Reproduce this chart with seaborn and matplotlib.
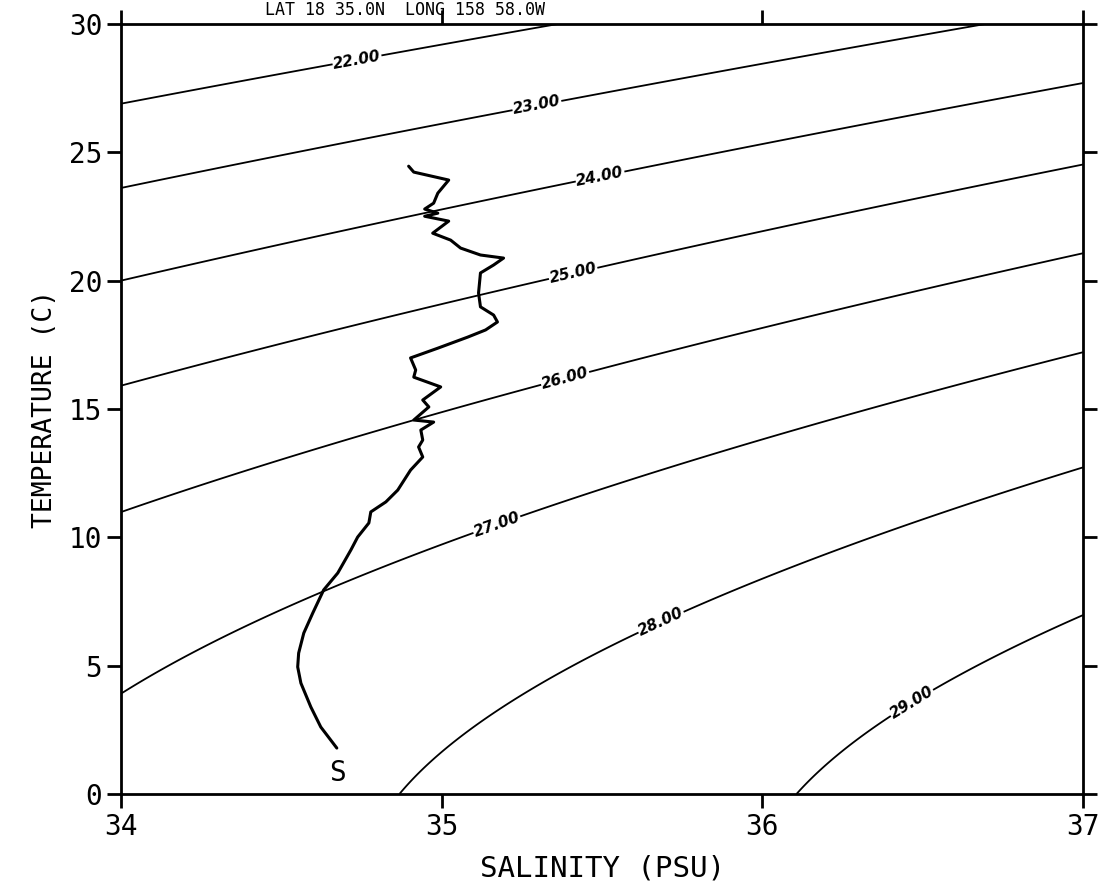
import numpy as np
import pandas as pd
import matplotlib
matplotlib.use("Agg")
import matplotlib.pyplot as plt
import seaborn as sns

# ---- data: CTD profile (salinity PSU, temperature C) ----
salinity = [34.897, 34.913, 35.022, 34.988, 34.975, 34.947, 34.988, 34.947, 35.022,
            34.972, 35.028, 35.059, 35.121, 35.193, 35.162, 35.121, 35.115, 35.121,
            35.162, 35.174, 35.137, 35.081, 34.988, 34.903, 34.919, 34.913, 34.997,
            34.941, 34.960, 34.913, 34.975, 34.935, 34.941, 34.928, 34.941, 34.903,
            34.863, 34.826, 34.779, 34.773, 34.738, 34.717, 34.676, 34.632, 34.598,
            34.570, 34.554, 34.551, 34.561, 34.592, 34.623, 34.673]
temperature = [24.46, 24.23, 23.92, 23.41, 23.02, 22.79, 22.63, 22.51, 22.32,
               21.85, 21.58, 21.27, 21.00, 20.88, 20.61, 20.30, 19.52, 18.98,
               18.66, 18.39, 18.08, 17.80, 17.37, 16.99, 16.52, 16.24, 15.86,
               15.35, 15.08, 14.57, 14.49, 14.18, 13.79, 13.52, 13.13, 12.62,
               11.84, 11.38, 10.99, 10.56, 10.01, 9.51, 8.61, 7.95, 7.05,
               6.27, 5.49, 4.95, 4.32, 3.39, 2.61, 1.79]

sigma_levels = [22, 23, 24, 25, 26, 27, 28, 29]
# salinity at which each contour carries its label
label_salinity = [34.736, 35.297, 35.494, 35.41, 35.385, 35.172, 35.684, 36.466]
x_ticks = [34, 35, 36, 37]
y_ticks = [0, 5, 10, 15, 20, 25, 30]
title_text = "LAT 18 35.0N  LONG 158 58.0W"
start_label = "S"

# ---- UNESCO EOS-80 surface density (sigma-theta) ----
def sigma_t(S, T):
    rho_w = (999.842594 + 6.793952e-2 * T - 9.095290e-3 * T**2 + 1.001685e-4 * T**3
             - 1.120083e-6 * T**4 + 6.536332e-9 * T**5)
    A = 0.824493 - 4.0899e-3 * T + 7.6438e-5 * T**2 - 8.2467e-7 * T**3 + 5.3875e-9 * T**4
    B = -5.72466e-3 + 1.0227e-4 * T - 1.6546e-6 * T**2
    C = 4.8314e-4
    return rho_w + A * S + B * S**1.5 + C * S**2 - 1000.0


def temp_on_contour(S, level):
    lo, hi = -2.0, 40.0
    for _ in range(60):
        mid = 0.5 * (lo + hi)
        if sigma_t(S, mid) > level:
            lo = mid
        else:
            hi = mid
    return 0.5 * (lo + hi)


sg, tg = np.meshgrid(np.linspace(34, 37, 301), np.linspace(0, 30, 301))
sig = sigma_t(sg, tg)
label_pos = [(s, temp_on_contour(s, lv)) for s, lv in zip(label_salinity, sigma_levels)]

sns.set_theme(style="ticks")
mono = ["DejaVu Sans Mono", "DejaVu Sans"]
plt.rcParams["font.family"] = mono
plt.rcParams["text.color"] = "black"
plt.rcParams["axes.labelcolor"] = "black"

fig = plt.figure(figsize=(11.04, 8.94), dpi=100)
ax = fig.add_axes([121 / 1104, 1 - 794 / 894, (1083 - 121) / 1104, (794 - 24) / 894])

cs = ax.contour(sg, tg, sig, levels=sigma_levels, colors="black", linewidths=1.3)
lbls = ax.clabel(cs, fmt="%.2f", fontsize=11, inline=True, inline_spacing=2,
                 manual=label_pos)
for t in lbls:
    t.set_fontstyle("italic")
    t.set_fontweight("bold")
    t.set_family(["DejaVu Sans"])

df = pd.DataFrame({"salinity": salinity, "temperature": temperature})
sns.lineplot(data=df, x="salinity", y="temperature", sort=False, estimator=None,
             color="black", linewidth=2.2, ax=ax)

ax.text(34.674, 0.82, start_label, ha="center", va="center", fontsize=20, family=mono)

ax.set_xlim(34, 37)
ax.set_ylim(0, 30)
ax.set_xticks(x_ticks)
ax.set_yticks(y_ticks)
ax.set_xlabel("SALINITY (PSU)", fontsize=21, labelpad=10)
ax.set_ylabel("TEMPERATURE (C)", fontsize=19, labelpad=8)
ax.tick_params(axis="both", which="both", direction="out", length=10, width=2,
               labelsize=20, top=True, right=True, labeltop=False, labelright=False,
               colors="black")
for sp in ax.spines.values():
    sp.set_visible(True)
    sp.set_linewidth(2.0)
    sp.set_color("black")

fig.text(265 / 1104, 1.0 - 1 / 894, title_text, ha="left", va="top", fontsize=12,
         family=mono)

fig.savefig("out.png", dpi=100, facecolor="white")
